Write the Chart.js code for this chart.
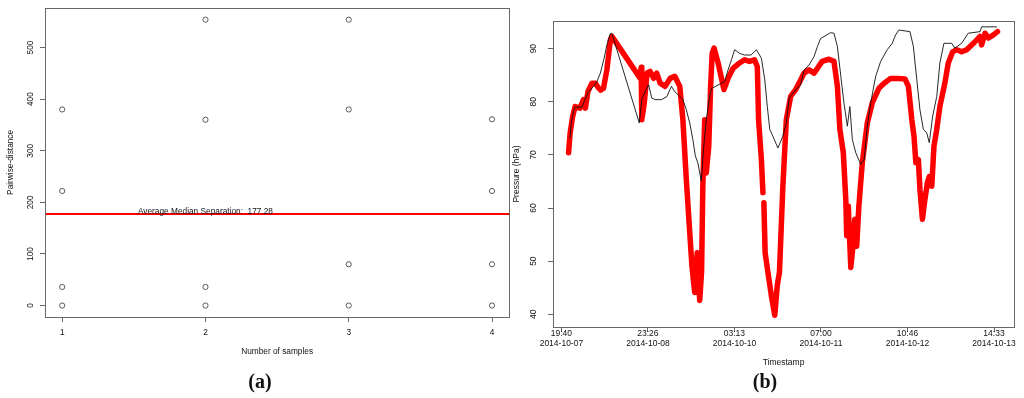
<!DOCTYPE html>
<html>
<head>
<meta charset="utf-8">
<script src="https://cdn.jsdelivr.net/npm/chart.js@4.4.1/dist/chart.umd.min.js"></script>
<style>
  body { margin: 0; background: #fff; }
  #wrap { position: relative; width: 1024px; height: 398px; overflow: hidden; }
  canvas { position: absolute; top: 0; }
  .tag { position: absolute; top: 370px; line-height: 20px; font: bold 20px "Liberation Serif", "Times New Roman", serif; color: #111; transform: translateX(-50%); }
</style>
</head>
<body>
<div id="wrap">
  <canvas id="chartA" width="514" height="398" style="left:0"></canvas>
  <canvas id="chartB" width="524" height="398" style="left:500px"></canvas>
  <div class="tag" style="left:260px">(a)</div>
  <div class="tag" style="left:765px">(b)</div>
</div>
<script>
// shortcut
const $ = id => document.getElementById(id);

// (a) pairwise distance vs number of samples
const sampleX = [1, 1, 1, 1, 2, 2, 2, 2, 3, 3, 3, 3, 4, 4, 4, 4];
const pairwiseDist = [0, 36, 222, 380, 0, 36, 360, 554, 0, 80, 380, 554, 0, 80, 222, 361];
const avgMedianSep = 177.28;
const sampleTicks = [1, 2, 3, 4];
const distTicks = [0, 100, 200, 300, 400, 500];

// (b) pressure, x = hours after 2014-10-07 19:40
const tickHours = [0, 27.78, 55.55, 83.33, 111.11, 138.88];
const tickTimes = ['19:40', '23:26', '03:13', '07:00', '10:46', '14:33'];
const tickDates = ['2014-10-07', '2014-10-08', '2014-10-10', '2014-10-11', '2014-10-12', '2014-10-13'];
const pressureTicks = [40, 50, 60, 70, 80, 90];

// thin black series
const refHours = [2.8, 3.1, 3.9, 4.4, 6.6, 7.6, 8.7, 10.3, 11.4, 12.5, 13.6, 14.6, 15.7, 16.2,
  25.0, 25.8, 26.9, 28.0, 29.0, 30.1, 32.2, 33.9, 35.3, 36.4, 38.0, 39.0, 40.1, 41.2, 42.2,
  43.0, 43.8, 44.9, 45.7, 46.5, 47.6, 48.2, 52.4, 53.5, 54.6, 55.6, 57.2, 58.8, 60.9, 62.6,
  64.2, 65.3, 66.1, 66.9, 67.9, 69.5, 71.1, 72.2, 73.1, 74.7, 76.8, 77.9, 79.5, 81.1, 82.2,
  83.2, 86.4, 87.5, 88.6, 89.7, 90.7, 91.8, 92.6, 93.4, 94.5, 96.1, 97.2, 98.2, 99.3, 100.9,
  102.5, 104.6, 106.2, 107.3, 108.3, 111.9, 113.0, 114.1, 115.1, 116.2, 117.3, 118.1, 119.2,
  120.5, 121.5, 122.8, 125.3, 126.3, 128.5, 130.6, 134.4, 134.9, 139.8];
const refPressure = [73.2, 75.9, 78.2, 79.0, 79.0, 80.4, 81.9, 82.9, 83.8, 85.4, 87.9, 90.7, 92.8, 92.9,
  76.0, 80.4, 81.9, 83.2, 80.7, 80.4, 80.4, 81.0, 82.9, 81.9, 81.0, 80.4, 78.5, 76.0, 72.9,
  69.8, 68.5, 65.1, 71.6, 76.6, 81.0, 82.5, 83.8, 86.0, 87.9, 89.8, 89.1, 88.8, 88.8, 89.8,
  88.2, 84.1, 79.1, 74.8, 73.5, 71.3, 73.5, 76.0, 80.7, 81.9, 83.2, 86.0, 86.9, 88.5, 90.4,
  91.9, 93.0, 92.9, 90.4, 84.8, 79.8, 75.4, 79.1, 72.9, 70.4, 68.2, 69.1, 75.4, 79.8, 84.8,
  87.6, 89.8, 91.0, 92.6, 93.5, 93.2, 90.4, 84.1, 78.5, 74.8, 74.1, 72.3, 77.3,
  81.0, 87.3, 91.0, 91.0, 90.1, 91.0, 92.9, 93.2, 94.1, 94.1];

// thick red series (null = gap)
const estHours = [2.3, 2.8, 3.6, 4.4, 6.0, 7.1, 7.7, 8.5, 9.8, 10.9, 11.9, 12.2, 12.6, 13.5, 14.6,
  15.7, 16.2, 25.3, 25.6, 25.8, 26.6, 27.5, 28.5, 29.6, 30.6, 31.7, 33.3, 34.9, 36.4, 38.0,
  39.0, 40.1, 41.2, 41.9, 42.8, 43.6, 44.4, 45.0, 45.4, 46.0, 46.5, 47.3, 47.9, 48.4, 49.0,
  50.3, 52.2, 53.5, 55.1, 57.2, 58.8, 60.4, 62.0, 62.9, 63.3, 64.2, 64.7, 64.85, 65.0, 65.4,
  66.3, 67.4, 68.5, 69.3, 70.0, 71.1, 72.2, 73.6, 75.2, 76.8, 77.9, 79.5, 81.1, 82.2, 83.7,
  85.9, 87.5, 88.6, 89.4, 90.5, 91.3, 91.6, 92.1, 92.9, 93.6, 94.2, 94.8, 95.5, 96.6, 98.2,
  99.8, 102.0, 103.6, 105.7, 107.9, 110.3, 111.4, 112.5, 113.2, 113.8, 114.6, 115.1, 115.9,
  116.7, 117.5, 118.1, 118.9, 119.6, 120.5, 121.5, 123.1, 124.2, 125.6, 126.9, 128.5, 130.1,
  131.7, 133.3, 134.4, 134.9, 136.0, 137.1, 138.7, 140.0];
const estPressure = [70.4, 74.1, 77.2, 79.1, 78.8, 80.4, 78.8, 81.9, 83.5, 83.5, 82.6, null, 82.2, 82.5, 86.0,
  91.6, 92.3, 84.4, 86.5, 76.6, 79.7, 85.4, 85.7, 84.4, 85.4, 83.5, 82.9, 84.4, 84.8, 82.9,
  76.6, 65.4, 55.4, 49.1, 44.1, 51.6, 42.6, 48.0, 64.1, 76.6, 66.6, 71.6, 82.9, 89.1, 90.1,
  87.3, 82.3, 84.4, 86.3, 87.3, 87.9, 87.6, 87.9, 86.6, 76.6, 69.1, 62.9, null, 61.0, 51.6,
  47.9, 43.5, 39.8, 45.4, 47.9, 64.1, 76.6, 81.0, 82.3, 84.1, 85.4, 86.0, 85.4, 86.3, 87.6,
  88.0, 87.6, 82.9, 74.8, 70.4, 61.6, 54.8, 60.4, 48.8, 52.8, 57.9, 52.8, 60.4, 68.5, 76.0,
  79.8, 82.6, 83.5, 84.4, 84.4, 84.3, 82.9, 76.6, 73.5, 68.5, 69.1, 63.5, 57.9,
  61.6, 64.8, 65.9, 64.1, 71.6, 74.8, 79.1, 83.5, 87.3, 89.4, 89.8, 89.4, 89.8,
  90.7, 91.6, 92.3, 90.7, 92.9, 92.0, 92.6, 93.2];

const pts = (xs, ys) => xs.map((x, i) => ({ x, y: ys[i] }));
const ink = '#111';
const lineGray = '#666';
const fam = '"Liberation Sans", Arial, Helvetica, sans-serif';

// box round the plot, like R's bty="o"
const frame = {
  id: 'frame',
  afterDraw(c) {
    const a = c.chartArea, ctx = c.ctx;
    ctx.save();
    ctx.strokeStyle = lineGray;
    ctx.lineWidth = 1;
    ctx.strokeRect(Math.round(a.left) + 0.5, Math.round(a.top) + 0.5,
      Math.round(a.right - a.left), Math.round(a.bottom - a.top));
    ctx.restore();
  }
};

// label on the median line
const medianNote = {
  id: 'medianNote',
  afterDatasetsDraw(c) {
    const ctx = c.ctx;
    ctx.save();
    ctx.font = '8.3px ' + fam;
    ctx.fillStyle = ink;
    ctx.textAlign = 'center';
    ctx.textBaseline = 'middle';
    ctx.fillText('Average Median Separation:  ' + avgMedianSep,
      c.scales.x.getPixelForValue(2), c.scales.y.getPixelForValue(avgMedianSep) - 2);
    ctx.restore();
  }
};

const fontA = { family: fam, size: 8.3 };
const fontB = { family: fam, size: 8.5 };

new Chart($('chartA'), {
  type: 'scatter',
  data: {
    datasets: [{
      data: pts(sampleX, pairwiseDist),
      pointStyle: 'circle',
      pointRadius: 2.6,
      pointBorderWidth: 0.8,
      borderColor: '#333',
      backgroundColor: 'rgba(0,0,0,0)'
    }, {
      type: 'line',
      data: [{ x: 0.88, y: avgMedianSep }, { x: 4.12, y: avgMedianSep }],
      borderColor: '#ff0000',
      borderWidth: 2,
      pointRadius: 0
    }]
  },
  options: {
    responsive: false,
    animation: false,
    layout: { padding: { top: 7, right: 3, left: 0, bottom: 0 } },
    plugins: { legend: { display: false }, tooltip: { enabled: false } },
    scales: {
      x: {
        type: 'linear', min: 0.88, max: 4.12,
        afterBuildTicks: s => { s.ticks = sampleTicks.map(v => ({ value: v })); },
        afterFit: s => { s.height = 81; },
        grid: { drawOnChartArea: false, tickLength: 5, color: lineGray },
        border: { display: false },
        ticks: { font: fontA, color: ink, padding: 6, autoSkip: false },
        title: { display: true, text: 'Number of samples', font: fontA, color: ink, padding: { top: 0, bottom: 41 } }
      },
      y: {
        min: -22.2, max: 577,
        afterBuildTicks: s => { s.ticks = distTicks.map(v => ({ value: v })); },
        afterFit: s => { s.width = 45; },
        grid: { drawOnChartArea: false, tickLength: 5, color: lineGray },
        border: { display: false },
        ticks: { font: fontA, color: ink, minRotation: 90, maxRotation: 90, crossAlign: 'center', padding: 2.8, autoSkip: false },
        title: { display: true, text: 'Pairwise-distance', font: fontA, color: ink, padding: { top: 6.2, bottom: 0 } }
      }
    }
  },
  plugins: [frame, medianNote]
});

new Chart($('chartB'), {
  type: 'line',
  data: {
    datasets: [{
      data: pts(refHours, refPressure),
      borderColor: '#111',
      borderWidth: 0.9,
      pointRadius: 0
    }, {
      data: pts(estHours, estPressure),
      borderColor: '#ff0000',
      borderWidth: 5.5,
      pointRadius: 0,
      borderCapStyle: 'round',
      borderJoinStyle: 'round',
      spanGaps: false
    }]
  },
  options: {
    responsive: false,
    animation: false,
    layout: { padding: { top: 21, right: 10, left: 0, bottom: 0 } },
    plugins: { legend: { display: false }, tooltip: { enabled: false } },
    scales: {
      x: {
        type: 'linear', min: -2.7, max: 145.3,
        afterBuildTicks: s => { s.ticks = tickHours.map(v => ({ value: v })); },
        afterFit: s => { s.height = 71; },
        grid: { drawOnChartArea: false, tickLength: 5, color: lineGray },
        border: { display: false },
        ticks: {
          font: fontB, color: ink, padding: -3.6, autoSkip: false, maxRotation: 0,
          callback: (v, i) => [tickTimes[i], tickDates[i]]
        },
        title: { display: true, text: 'Timestamp', font: fontB, color: ink, padding: { top: 0, bottom: 30 } }
      },
      y: {
        min: 37.6, max: 95.2,
        afterBuildTicks: s => { s.ticks = pressureTicks.map(v => ({ value: v })); },
        afterFit: s => { s.width = 53; },
        grid: { drawOnChartArea: false, tickLength: 5, color: lineGray },
        border: { display: false },
        ticks: { font: fontB, color: ink, minRotation: 90, maxRotation: 90, crossAlign: 'center', padding: 9.5, autoSkip: false },
        title: { display: true, text: 'Pressure (hPa)', font: fontB, color: ink, padding: { top: 11.9, bottom: 0 } }
      }
    }
  },
  plugins: [frame]
});
</script>
</body>
</html>
